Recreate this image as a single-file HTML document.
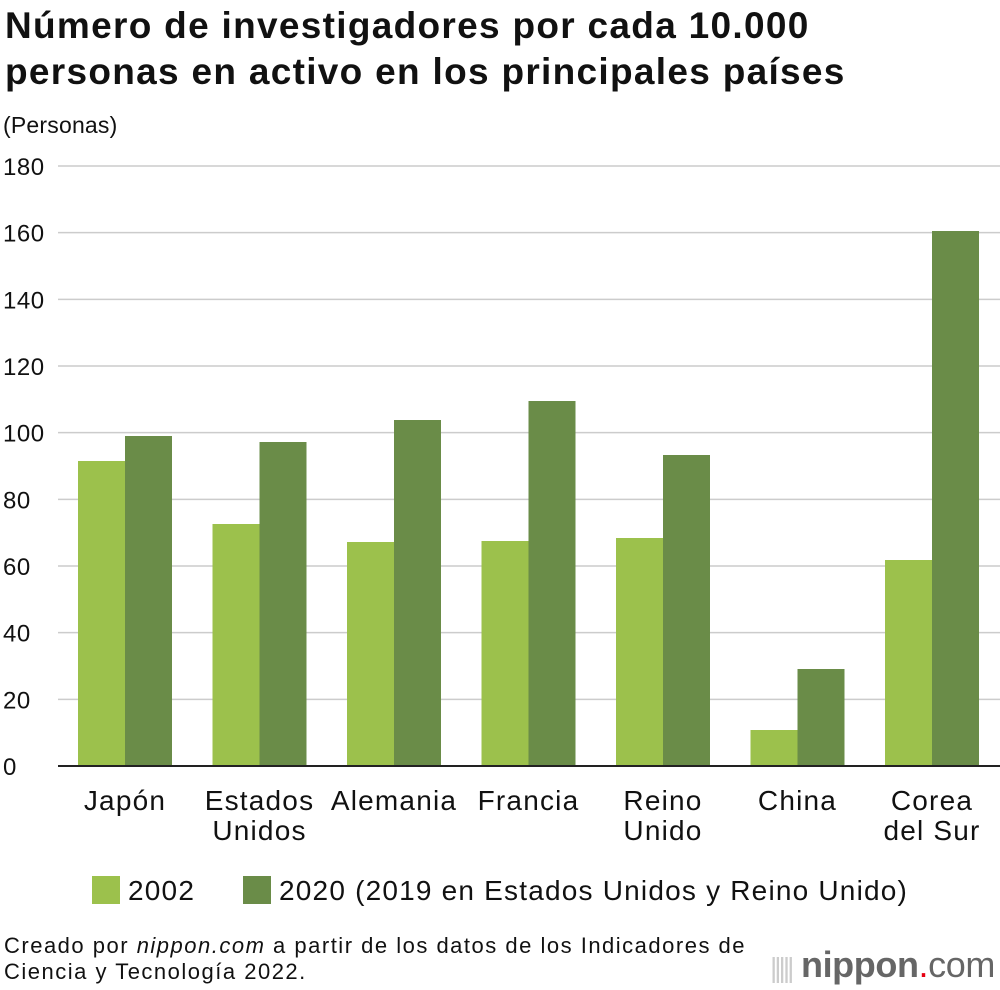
<!DOCTYPE html>
<html><head><meta charset="utf-8">
<style>
body{margin:0;background:#fff;font-family:"Liberation Sans",sans-serif;}
#wrap{position:relative;width:1000px;height:990px;overflow:hidden;}
.t{position:absolute;color:#111;white-space:nowrap;}
</style></head>
<body>
<div id="wrap">
<div class="t" style="left:5px;top:3px;font-size:37px;font-weight:bold;line-height:46px;letter-spacing:1.3px">Número de investigadores por cada 10.000<br>personas en activo en los principales países</div>
<div class="t" style="left:3px;top:112px;font-size:23px;letter-spacing:0.2px">(Personas)</div>
<svg id="chart" width="1000" height="990" style="position:absolute;left:0;top:0"></svg>
<div class="t" style="left:4px;top:933px;font-size:22px;line-height:26px;letter-spacing:1.5px">Creado por <i>nippon.com</i> a partir de los datos de los Indicadores de<br>Ciencia y Tecnología 2022.</div>
<div class="t" style="left:770px;top:945px;font-size:36px;color:#666;line-height:40px;letter-spacing:-0.4px"><span style="color:#ccc;font-size:28px;letter-spacing:-3px">|||||</span> <b>nippon</b><span style="color:#e60012">.</span>com</div>
</div>
<script>
const categories=[["Japón"],["Estados","Unidos"],["Alemania"],["Francia"],["Reino","Unido"],["China"],["Corea","del Sur"]];
const values2002=[91.5,72.6,67.2,67.5,68.4,10.8,61.8];
const values2020=[99,97.2,103.8,109.5,93.3,29.1,160.5];
const yTicks=[0,20,40,60,80,100,120,140,160,180];
const seriesNames=["2002","2020 (2019 en Estados Unidos y Reino Unido)"];
const NS="http://www.w3.org/2000/svg";
const svg=document.getElementById('chart');
const y0=766,yTop=166,yMax=180,x0=58,x1=1000;
const y=v=>y0-(v/yMax)*(y0-yTop);
const gStart=78,gStep=134.5,bw=47;
const colors=["#9cc14c","#6a8c48"];
function mk(tag,attrs){const e=document.createElementNS(NS,tag);for(const k in attrs)e.setAttribute(k,attrs[k]);svg.appendChild(e);return e;}
yTicks.forEach(t=>{
  const l=mk('line',{x1:x0,x2:x1,y1:y(t),y2:y(t),stroke:t===0?'#222':'#ccc','stroke-width':t===0?2:1.5});
  
  
  const tx=mk('text',{x:3,y:y(t)+9,'font-size':24,'letter-spacing':0.5,fill:'#111'});tx.textContent=t;
  
  
});
categories.forEach((c,i)=>{
  const gx=gStart+i*gStep;
  [values2002,values2020].forEach((arr,s)=>{
    const r=mk('rect',{x:gx+s*bw,y:y(arr[i]),width:bw,height:y0-y(arr[i]),fill:colors[s]});
    
    
  });
  c.forEach((line,j)=>{
    const tx=mk('text',{x:gx+bw,y:810+j*30,'font-size':28,'letter-spacing':1.2,'text-anchor':'middle',fill:'#111'});tx.textContent=line;
    
    
  });
});
mk('line',{x1:x0,x2:x1,y1:y0,y2:y0,stroke:'#222','stroke-width':2});
const legX=[92,243];
seriesNames.forEach((n,s)=>{
  const r=mk('rect',{x:legX[s],y:876,width:28,height:28,fill:colors[s]});
  
  
  const tx=mk('text',{x:legX[s]+36,y:900,'font-size':28,'letter-spacing':1.2,fill:'#111'});tx.textContent=n;
  
  
});
</script>
</body></html>
